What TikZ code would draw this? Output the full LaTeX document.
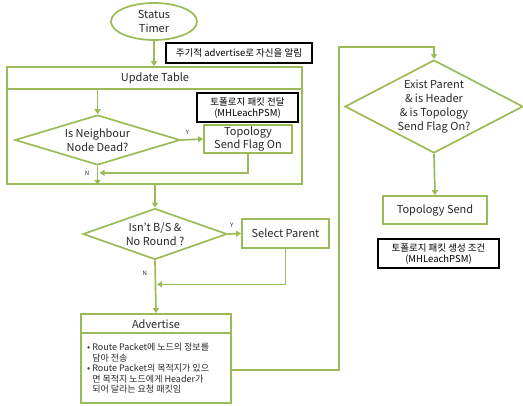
\documentclass[tikz,border=0pt]{standalone}
\usepackage{fontspec}
\setmainfont{Noto Sans CJK KR}
\usetikzlibrary{shapes.geometric,arrows.meta}
\definecolor{flowgreen}{RGB}{155,187,89}
\definecolor{txtgray}{RGB}{40,40,40}
\tikzset{
  flow/.style={draw=flowgreen, line width=1.7pt},
  box/.style={flow, rectangle, inner sep=0pt, align=center, text=txtgray,
    font=\fontsize{11}{13.5}\selectfont},
  decision/.style={flow, diamond, inner sep=0pt},
  label/.style={align=center, inner sep=0pt, text=txtgray,
    font=\fontsize{11}{14}\selectfont},
  memo/.style={draw=black, line width=1.4pt, inner sep=0pt, align=center,
    font=\fontsize{9.5}{11}\selectfont},
  link/.style={flow, -{Triangle[width=6pt,length=5pt]}},
  yn/.style={font=\fontsize{6}{6}\selectfont, text=txtgray}
}
\begin{document}
\begin{tikzpicture}[x=1pt,y=-1pt]
    \useasboundingbox (0,0) rectangle (523,405);

    % left column
    \node[flow, ellipse, minimum width=86pt, minimum height=37pt, inner sep=0pt] (timer) at (154,21.5) {};
    \node[label] (timertxt) at (timer) {Status\\Timer};
    \node[memo, minimum width=146pt, minimum height=20pt] (note1) at (239,53) {주기적 advertise로 자신을 알림};

    \node[box, minimum width=295pt, minimum height=117pt] (update) at (154.5,125.5) {};
    \draw[flow] (7,89) coordinate (uhead) -- (302,89);
    \node[label] (updtitle) at (155,78) {Update Table};
    \node[memo, minimum width=101pt, minimum height=29pt] (note2) at (247.5,107.5) {토폴로지 패킷 전달\\(MHLeachPSM)};

    \node[decision, minimum width=165pt, minimum height=50pt] (dead) at (97.5,140) {};
    \node[label] (deadtxt) at (dead) {Is Neighbour\\Node Dead?};
    \node[box, minimum width=88pt, minimum height=28pt] (flagon) at (248,139) {Topology\\Send Flag On};

    \node[decision, minimum width=144pt, minimum height=51pt] (isnt) at (155,234) {};
    \node[label] (isnttxt) at (isnt) {Isn't B/S \&\\No Round ?};
    \node[box, minimum width=87pt, minimum height=29pt] (select) at (285.5,233.5) {Select Parent};

    \node[box, minimum width=150pt, minimum height=89pt] (adv) at (156,358.5) {};
    \draw[flow] (81,333) -- (231,333);
    \node[label] (advtitle) at (156,324) {Advertise};
    \node[anchor=north west, align=left, inner sep=0pt, text=txtgray,
      font=\fontsize{9}{10.5}\selectfont] (advtext) at (87,343)
      {• Route Packet에 노드의 정보를\\\hphantom{• }담아 전송\\• Route Packet의 목적지가 있으\\\hphantom{• }면 목적지 노드에게 Header가\\\hphantom{• }되어 달라는 요청 패킷임};

    % right column
    \node[decision, minimum width=178pt, minimum height=93pt] (exist) at (434,106.5) {};
    \node[label] (existtxt) at (exist) {Exist Parent\\\& is Header\\\& is Topology\\Send Flag On?};
    \node[box, minimum width=104pt, minimum height=28pt] (tsend) at (435,210) {Topology Send};
    \node[memo, minimum width=121pt, minimum height=29pt] (note3) at (438.5,253.5) {토폴로지 패킷 생성 조건\\(MHLeachPSM)};

    % connectors
    \draw[link] (timer.south) -- (timer.south |- update.north);
    \draw[link] (dead.north |- uhead) -- (dead.north);
    \draw[link] (dead.east) -- (flagon.west) node[yn, pos=0.3, above=1pt] {Y};
    \draw[link] (flagon.south) |- ([xshift=2pt,yshift=-7pt]dead.south);
    \draw[link] (dead.south) -- (dead.south |- update.south) node[yn, pos=0.4, left=4pt] {N};
    \draw[link] (isnt.north |- update.south) -- (isnt.north);
    \draw[link] (isnt.east) -- (select.west) node[yn, pos=0.3, above=2pt] {Y};
    \draw[link] (select.south) |- ([xshift=2pt,yshift=-24pt]isnt.south);
    \draw[link] (isnt.south) -- (adv.north) node[yn, pos=0.24, left=4pt] {N};
    \draw[link] ([yshift=-11.5pt]adv.east) -- ++(107,0) |- ([yshift=12pt]exist.north) -- (exist.north);
    \draw[link] (exist.south) -- (tsend.north);
\end{tikzpicture}
\end{document}
